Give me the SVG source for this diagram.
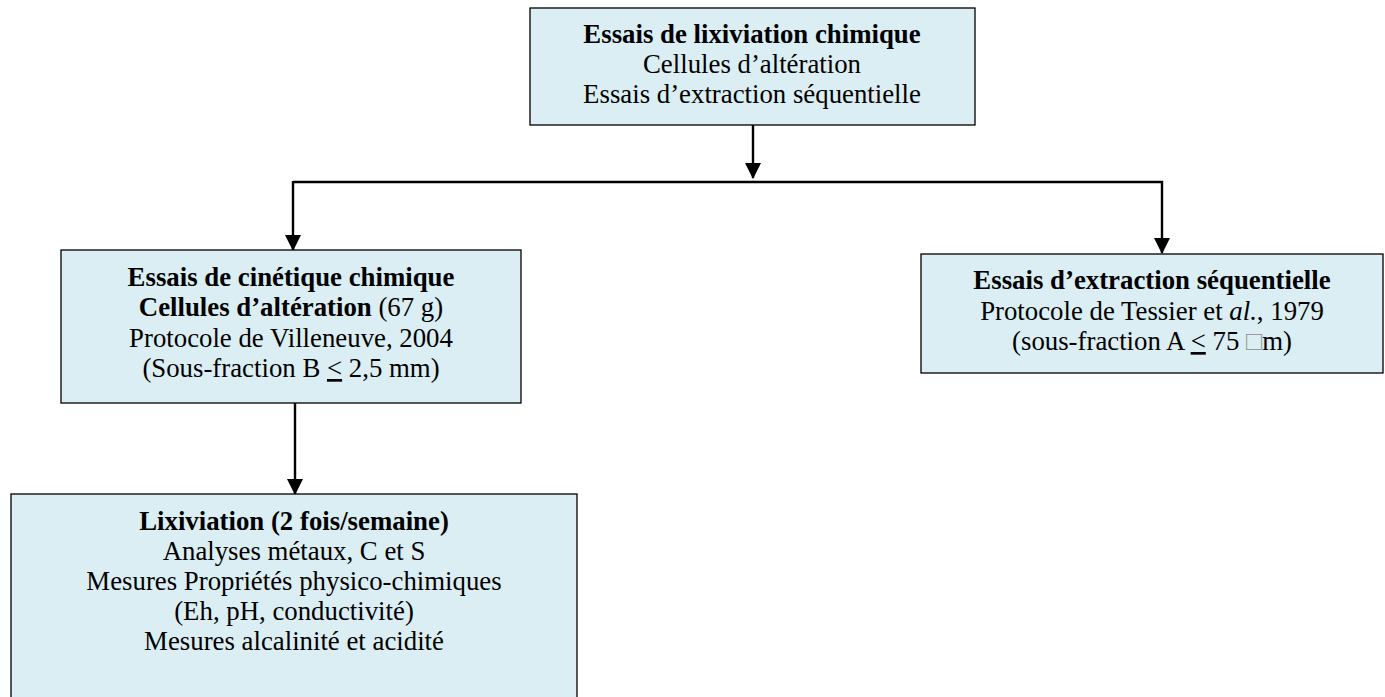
<svg xmlns="http://www.w3.org/2000/svg" width="1385" height="697" viewBox="0 0 1385 697">
<style>
.box{fill:#DAEEF3;stroke:#000;stroke-width:1.3}
.t{font-family:"Liberation Serif","Times New Roman",serif;font-size:26.8px;fill:#000;text-anchor:middle}
.b{font-weight:bold}
.c{fill:none;stroke:#000;stroke-width:2.4}
.tofu{fill:#999}
</style>
<defs>
<marker id="ah" markerUnits="userSpaceOnUse" markerWidth="16" markerHeight="16" viewBox="0 0 16 16" refX="15" refY="8" orient="auto">
<path d="M0,0 L16,8 L0,16 Z" fill="#000"/>
</marker>
</defs>
<rect width="1385" height="697" fill="#fff"/>
<g id="connectors">
<line class="c" x1="753" y1="125" x2="753" y2="178" marker-end="url(#ah)"/>
<polyline class="c" points="293,182 1162,182 1162,253" marker-end="url(#ah)"/>
<line class="c" x1="293" y1="181" x2="293" y2="250" marker-end="url(#ah)"/>
<line class="c" x1="295" y1="403" x2="295" y2="494" marker-end="url(#ah)"/>
</g>
<g id="node-top">
<rect class="box" x="530" y="8" width="445" height="117"/>
<text class="t b" x="752" y="43">Essais de lixiviation chimique</text>
<text class="t" x="752" y="73">Cellules d’altération</text>
<text class="t" x="752" y="103">Essais d’extraction séquentielle</text>
</g>
<g id="node-cinetique">
<rect class="box" x="61" y="250" width="460" height="153"/>
<text class="t" x="291" y="286"><tspan class="b">Essais de cinétique chimique</tspan></text>
<text class="t" x="291" y="316"><tspan class="b">Cellules d’altération</tspan> (67 g)</text>
<text class="t" x="291" y="347">Protocole de Villeneuve, 2004</text>
<text class="t" x="291" y="377">(Sous-fraction B <tspan text-decoration="underline">&lt;</tspan> 2,5 mm)</text>
</g>
<g id="node-extraction">
<rect class="box" x="921" y="254" width="462" height="119"/>
<text class="t b" x="1152" y="289">Essais d’extraction séquentielle</text>
<text class="t" x="1152" y="320">Protocole de Tessier et <tspan font-style="italic">al.</tspan>, 1979</text>
<text class="t" x="1152" y="350">(sous-fraction A <tspan text-decoration="underline">&lt;</tspan> 75 <tspan class="tofu">□</tspan>m)</text>
</g>
<g id="node-lixiviation">
<rect class="box" x="11" y="494" width="566" height="210"/>
<text class="t b" x="294" y="530">Lixiviation (2 fois/semaine)</text>
<text class="t" x="294" y="560">Analyses métaux, C et S</text>
<text class="t" x="294" y="590">Mesures Propriétés physico-chimiques</text>
<text class="t" x="294" y="620">(Eh, pH, conductivité)</text>
<text class="t" x="294" y="650">Mesures alcalinité et acidité</text>
</g>
</svg>
